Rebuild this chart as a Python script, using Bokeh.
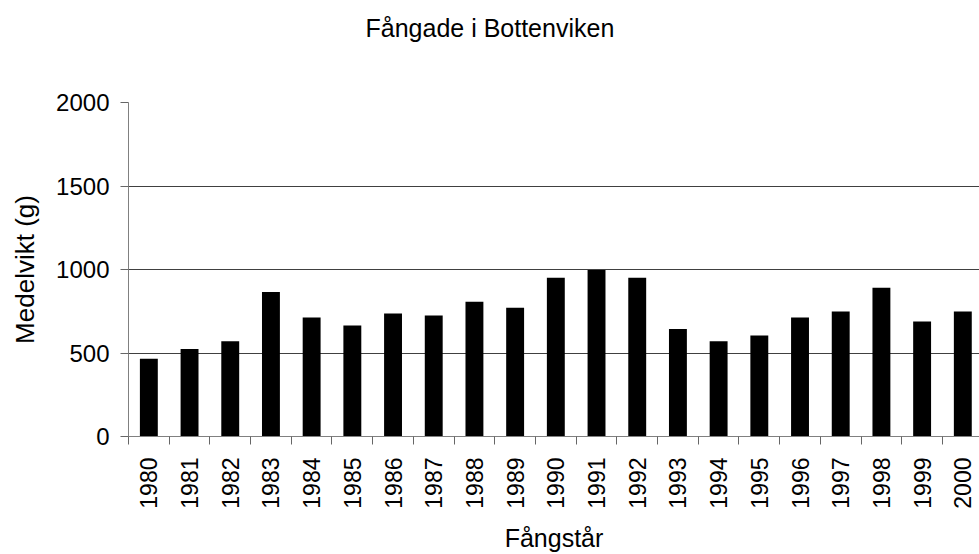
from bokeh.plotting import figure
from bokeh.models import FixedTicker, Range1d, SingleIntervalTicker, Title
from bokeh.embed import file_html
from bokeh.resources import INLINE
import math

years = list(range(1980, 2001))
weights = [465, 524, 570, 866, 712, 665, 736, 724, 807, 771, 950, 997, 950,
           643, 570, 605, 712, 748, 890, 688, 748]
title_text = "Fångade i Bottenviken"
y_title = "Medelvikt (g)"
x_title = "Fångstår"

FONT = "Liberation Sans"

p = figure(width=979, height=554, output_backend="svg", toolbar_location=None,
           x_range=Range1d(1979.5, 2000.41), y_range=Range1d(0, 2000),
           min_border_left=128, min_border_right=0, min_border_top=102,
           min_border_bottom=115)
p.outline_line_color = None
p.background_fill_color = "white"
p.border_fill_color = "white"

p.vbar(x=years, top=weights, width=0.44, fill_color="black", line_color=None)

# title
p.title.text = title_text
p.title.align = "left"
p.title.offset = 237
p.title.text_font = FONT
p.title.text_font_size = "25px"
p.title.text_font_style = "normal"
p.title.text_color = "black"
p.add_layout(Title(text=" ", text_font_size="40px"), "above")

# x axis
xa = p.xaxis[0]
xa.ticker = FixedTicker(ticks=years, minor_ticks=[y - 0.5 for y in years] + [years[-1] + 0.5])
xa.major_label_orientation = math.pi / 2
xa.major_tick_out = 0
xa.major_tick_in = 0
xa.minor_tick_out = 8
xa.minor_tick_in = 0
xa.minor_tick_line_color = "#666666"
xa.axis_line_color = "#808080"
xa.major_label_text_font = FONT
xa.major_label_text_font_size = "23px"
xa.major_label_text_color = "black"
xa.major_label_standoff = 13
xa.axis_label = x_title
xa.axis_label_text_font = FONT
xa.axis_label_text_font_size = "25px"
xa.axis_label_text_font_style = "normal"
xa.axis_label_text_color = "black"
xa.axis_label_standoff = 12

# y axis
ya = p.yaxis[0]
ya.ticker = SingleIntervalTicker(interval=500, num_minor_ticks=0)
ya.major_tick_out = 8
ya.major_tick_in = 0
ya.minor_tick_out = 0
ya.major_tick_line_color = "#666666"
ya.axis_line_color = "#808080"
ya.major_label_text_font = FONT
ya.major_label_text_font_size = "24px"
ya.major_label_text_color = "black"
ya.major_label_standoff = 11
ya.axis_label = y_title
ya.axis_label_text_font = FONT
ya.axis_label_text_font_size = "26px"
ya.axis_label_text_font_style = "normal"
ya.axis_label_text_color = "black"
ya.axis_label_standoff = 13

p.xgrid.grid_line_color = None
p.ygrid.grid_line_color = "#404040"
p.ygrid.grid_line_width = 1

open("out.html", "w").write(file_html(p, INLINE))
